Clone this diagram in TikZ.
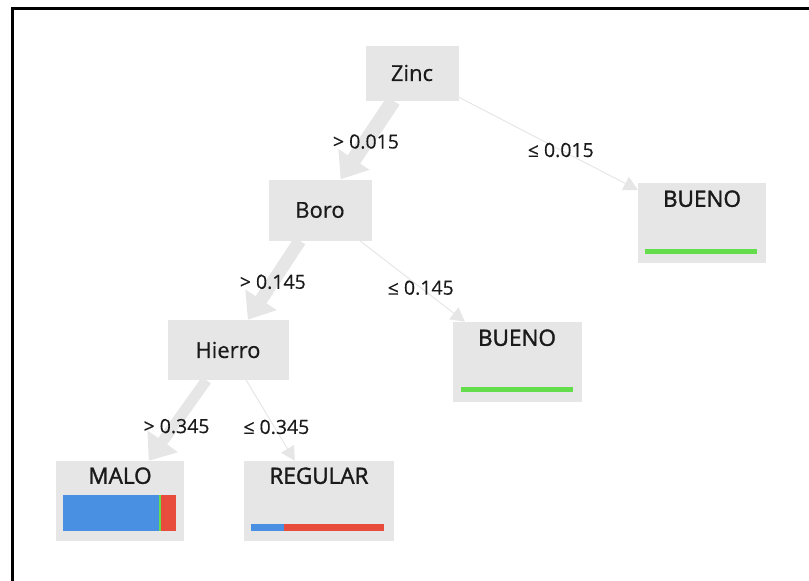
\documentclass[tikz,border=0pt]{standalone}
\usepackage{fontspec}
\setmainfont{Open Sans}
\usepackage{tikz}
\usetikzlibrary{arrows.meta}
\definecolor{boxgray}{HTML}{E6E6E6}
\definecolor{edgegray}{HTML}{E6E6E6}
\definecolor{barblue}{HTML}{4A90E2}
\definecolor{barred}{HTML}{E74C3C}
\definecolor{bargreen}{HTML}{63DD4B}
\definecolor{inkdark}{HTML}{1A1A1A}

\begin{document}
\begin{tikzpicture}[x=1pt, y=-1pt,
  split/.style={rectangle, fill=boxgray, inner sep=0pt, text=inkdark, font=\fontsize{22}{26}\selectfont\addfontfeature{FakeBold=0.4}},
  leaf/.style={rectangle, fill=boxgray, inner sep=0pt, minimum height=80pt},
  leaftitle/.style={anchor=base, inner sep=0pt, text=inkdark, font=\fontsize{22.5}{26}\selectfont\addfontfeature{FakeBold=1.6}},
  thin edge/.style={draw=edgegray, line width=1pt, -{Triangle[width=15pt, length=14pt]}},
  thick edge/.style={draw=edgegray, line width=#1, -{Triangle[width=36pt, length=24pt]}},
  cond/.style={inner sep=0pt, text=inkdark, font=\fontsize{19.5}{23}\selectfont\addfontfeature{FakeBold=0.3}}]
  \useasboundingbox (0,0) rectangle (809,581);

  % Frame
  \draw[line width=3pt] (12.5,581) -- (12.5,8.5) -- (809,8.5);

  % Splits
  \node[split, minimum width=93pt, minimum height=55pt] (zinc) at (412,73) {Zinc};
  \node[split, minimum width=103pt, minimum height=61pt] (boro) at (320,210) {Boro};
  \node[split, minimum width=121pt, minimum height=60pt] (hierro) at (228,350) {Hierro};

  % Leaves
  \node[leaf, minimum width=128pt] (buenoa) at (702,223) {};
  \node[leaf, minimum width=129pt] (buenob) at (517,362) {};
  \node[leaf, minimum width=128pt] (malo) at (120,501) {};
  \node[leaf, minimum width=150pt] (regular) at (319,501) {};
  \node[leaftitle] (buenoat) at ([yshift=-24pt]buenoa.north) {BUENO};
  \node[leaftitle] (buenobt) at ([yshift=-24pt]buenob.north) {BUENO};
  \node[leaftitle] (malot) at ([yshift=-23pt]malo.north) {MALO};
  \node[leaftitle] (regulart) at ([yshift=-23pt]regular.north) {REGULAR};

  % Class bars
  \fill[bargreen] (645,249) rectangle (757,254);
  \fill[bargreen] (461,387) rectangle (573,392);
  \fill[barblue] (63,495) rectangle (159,531);
  \fill[bargreen] (159,495) rectangle (161,531);
  \fill[barred] (161,495) rectangle (176,531);
  \fill[barblue] (251,524) rectangle (284,531);
  \fill[barred] (284,524) rectangle (384,531);

  % Edges
  \draw[thick edge=15pt] (zinc) -- node[cond, pos=0.52] {> 0.015} (boro);
  \draw[thin edge] (zinc) -- node[cond, pos=0.57] {≤ 0.015} (buenoa);
  \draw[thick edge=13pt] (boro) -- node[cond, pos=0.52] {> 0.145} (hierro);
  \draw[thin edge] (boro) -- node[cond, pos=0.58] {≤ 0.145} (buenob);
  \draw[thick edge=11pt] (hierro) -- node[cond, pos=0.57, xshift=3pt] {> 0.345} (malo);
  \draw[thin edge] (hierro) -- node[cond, pos=0.58, xshift=2pt] {≤ 0.345} (regular);
\end{tikzpicture}
\end{document}
